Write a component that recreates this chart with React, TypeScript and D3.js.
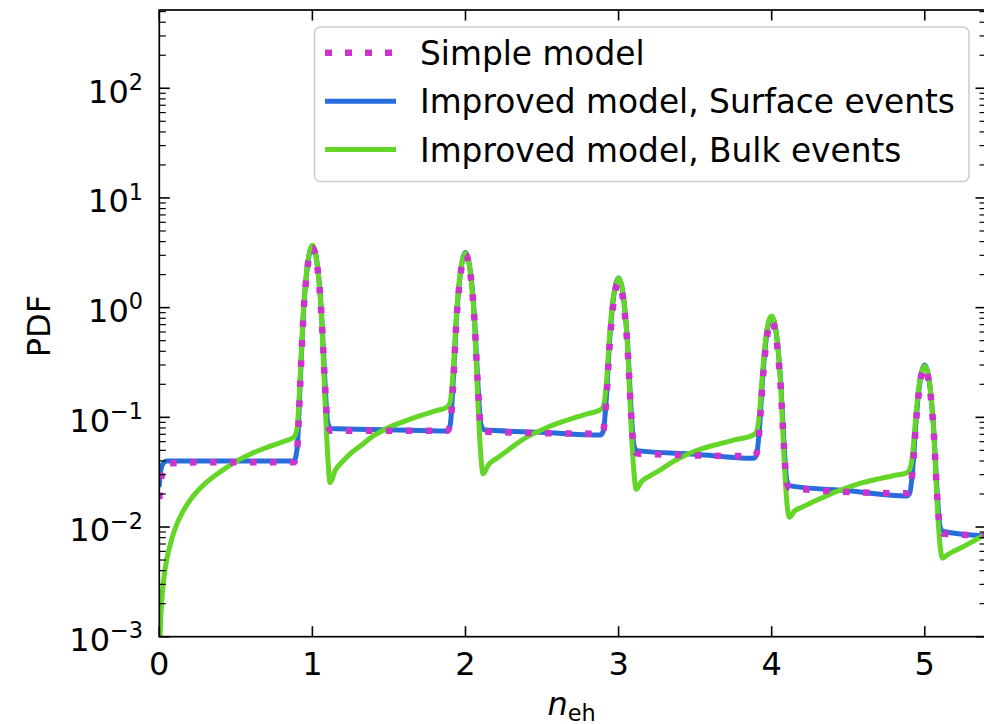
import React from "react";
import * as d3 from "d3";

// Probability density of the number of electron-hole pairs, three models.
const simpleModel: [number, number][] = [
  [0, 0.018], [0.01, 0.026], [0.02, 0.032], [0.035, 0.036], [0.06, 0.038], [0.3, 0.039], [0.88, 0.039],
  [0.9, 0.05], [0.92, 0.193], [0.94, 0.795], [0.96, 1.85], [0.98, 2.97], [1.0, 3.49], [1.02, 3.01], [1.04, 1.89], [1.06, 0.831], [1.08, 0.23], [1.1, 0.086], [1.12, 0.0755],
  [1.88, 0.0755],
  [1.9, 0.085], [1.92, 0.207], [1.94, 0.721], [1.96, 1.62], [1.98, 2.59], [2.0, 3.03], [2.02, 2.58], [2.04, 1.62], [2.06, 0.72], [2.08, 0.206], [2.1, 0.083], [2.12, 0.074],
  [2.88, 0.071],
  [2.9, 0.0761], [2.92, 0.143], [2.94, 0.426], [2.96, 0.92], [2.98, 1.45], [3.0, 1.69], [3.02, 1.43], [3.04, 0.897], [3.06, 0.402], [3.08, 0.119], [3.1, 0.052], [3.12, 0.0468],
  [3.88, 0.0443],
  [3.9, 0.0466], [3.92, 0.0765], [3.94, 0.202], [3.96, 0.422], [3.98, 0.657], [4.0, 0.76], [4.02, 0.635], [4.04, 0.4], [4.06, 0.18], [4.08, 0.0548], [4.1, 0.0249], [4.12, 0.0226],
  [4.88, 0.0203],
  [4.9, 0.0212], [4.92, 0.0324], [4.94, 0.0794], [4.96, 0.162], [4.98, 0.25], [5.0, 0.285], [5.02, 0.238], [5.04, 0.151], [5.06, 0.068], [5.08, 0.0208], [5.1, 0.0096], [5.12, 0.0087],
  [5.4, 0.0084],
];

const surfaceEvents: [number, number][] = [
  [0, 0.024], [0.01, 0.033], [0.025, 0.038], [0.05, 0.04], [0.4, 0.04], [0.88, 0.04],
  [0.9, 0.0514], [0.92, 0.201], [0.94, 0.828], [0.96, 1.93], [0.98, 3.1], [1.0, 3.64], [1.02, 3.14], [1.04, 1.97], [1.06, 0.867], [1.08, 0.24], [1.1, 0.09], [1.12, 0.079],
  [1.5, 0.077], [1.88, 0.075],
  [1.9, 0.0848], [1.92, 0.214], [1.94, 0.754], [1.96, 1.7], [1.98, 2.71], [2.0, 3.18], [2.02, 2.71], [2.04, 1.7], [2.06, 0.756], [2.08, 0.216], [2.1, 0.087], [2.12, 0.077],
  [2.5, 0.073], [2.88, 0.069],
  [2.9, 0.0747], [2.92, 0.149], [2.94, 0.463], [2.96, 1.014], [2.98, 1.6], [3.0, 1.86], [3.02, 1.58], [3.04, 0.995], [3.06, 0.444], [3.08, 0.13], [3.1, 0.0554], [3.12, 0.0497],
  [3.5, 0.046], [3.88, 0.0423],
  [3.9, 0.0448], [3.92, 0.078], [3.94, 0.217], [3.96, 0.462], [3.98, 0.723], [4.0, 0.83], [4.02, 0.704], [4.04, 0.444], [4.06, 0.199], [4.08, 0.0595], [4.1, 0.0262], [4.12, 0.0237],
  [4.5, 0.0214], [4.88, 0.0192],
  [4.9, 0.0201], [4.92, 0.0319], [4.94, 0.0816], [4.96, 0.169], [4.98, 0.262], [5.0, 0.3], [5.02, 0.252], [5.04, 0.159], [5.06, 0.0715], [5.08, 0.0218], [5.1, 0.01], [5.12, 0.0091],
  [5.4, 0.0083],
];

const bulkEvents: [number, number][] = [
  [0.004, 0.0009], [0.01, 0.0015], [0.02, 0.0025], [0.04, 0.0043], [0.07, 0.0068], [0.1, 0.0094], [0.15, 0.0135], [0.2, 0.0175], [0.3, 0.025], [0.4, 0.032], [0.5, 0.0395], [0.6, 0.0465], [0.7, 0.053], [0.8, 0.0595], [0.88, 0.066],
  [0.9, 0.08], [0.92, 0.233], [0.94, 0.87], [0.96, 1.99], [0.98, 3.15], [1.0, 3.7], [1.02, 3.15], [1.04, 1.95], [1.06, 0.82], [1.08, 0.17], [1.1, 0.045], [1.115, 0.0255],
  [1.15, 0.033], [1.2, 0.04], [1.25, 0.047], [1.3, 0.053], [1.4, 0.068], [1.5, 0.081], [1.6, 0.092], [1.7, 0.103], [1.8, 0.114], [1.88, 0.124],
  [1.9, 0.138], [1.92, 0.27], [1.94, 0.82], [1.96, 1.78], [1.98, 2.68], [2.0, 3.15], [2.02, 2.68], [2.04, 1.65], [2.06, 0.69], [2.08, 0.15], [2.1, 0.045], [2.115, 0.0305],
  [2.15, 0.037], [2.2, 0.042], [2.25, 0.047], [2.3, 0.053], [2.4, 0.066], [2.5, 0.077], [2.6, 0.088], [2.7, 0.098], [2.8, 0.108], [2.88, 0.117],
  [2.9, 0.125], [2.92, 0.2], [2.94, 0.53], [2.96, 1.1], [2.98, 1.58], [3.0, 1.86], [3.02, 1.58], [3.04, 0.98], [3.06, 0.41], [3.08, 0.093], [3.1, 0.032], [3.115, 0.0221],
  [3.15, 0.026], [3.2, 0.029], [3.27, 0.033], [3.35, 0.039], [3.45, 0.046], [3.55, 0.052], [3.65, 0.057], [3.75, 0.062], [3.88, 0.069],
  [3.9, 0.073], [3.92, 0.108], [3.94, 0.254], [3.96, 0.51], [3.98, 0.75], [4.0, 0.84], [4.02, 0.73], [4.04, 0.45], [4.06, 0.19], [4.08, 0.045], [4.1, 0.0165], [4.115, 0.0123],
  [4.15, 0.014], [4.2, 0.0152], [4.3, 0.0177], [4.4, 0.0205], [4.5, 0.023], [4.6, 0.0255], [4.7, 0.0275], [4.8, 0.0295], [4.88, 0.031],
  [4.9, 0.033], [4.92, 0.045], [4.94, 0.096], [4.96, 0.185], [4.98, 0.26], [5.0, 0.294], [5.02, 0.255], [5.04, 0.16], [5.06, 0.068], [5.08, 0.017], [5.1, 0.0068], [5.115, 0.0052],
  [5.15, 0.0056], [5.2, 0.0061], [5.25, 0.0066], [5.3, 0.0072], [5.35, 0.0079], [5.4, 0.0086],
];

const xTickValues = [0, 1, 2, 3, 4, 5];
const yExponents = [-3, -2, -1, 0, 1, 2];
const legendLabels = [
  "Simple model",
  "Improved model, Surface events",
  "Improved model, Bulk events",
];

const W = 984;
const H = 724;
const FONT = "DejaVu Sans, sans-serif";
const MAGENTA = "#cc33cc";
const BLUE = "#276ddc";
const GREEN = "#64d628";

export default function App() {
  const left = 159.3;
  const right = 986;
  const top = 10;
  const bottom = 636.7;

  const x = d3.scaleLinear().domain([0, 5.4]).range([left, right]);
  const y = d3.scaleLog().domain([1e-3, 517]).range([bottom, top]);

  const line = d3
    .line<[number, number]>()
    .x((d) => x(d[0]))
    .y((d) => y(d[1]))
    .curve(d3.curveMonotoneX);

  const minorY: number[] = [];
  yExponents.forEach((e) => {
    for (let m = 2; m <= 9; m++) {
      const v = m * Math.pow(10, e);
      if (v <= y.domain()[1]) minorY.push(v);
    }
  });

  const majorLen = 10.5;
  const minorLen = 6.5;
  const fs = 32;
  const legendFs = 32.8;

  const series = [
    { data: simpleModel, color: MAGENTA, dotted: true },
    { data: surfaceEvents, color: BLUE, dotted: false },
    { data: bulkEvents, color: GREEN, dotted: false },
  ];
  const drawOrder = [1, 2, 0];

  const legendRows = [52.7, 101.2, 149.5];

  return (
    <svg
      width={W}
      height={H}
      style={{ position: "absolute", left: 0, top: 0, background: "#fff" }}
      fontFamily={FONT}
    >
      <defs>
        <clipPath id="plotArea">
          <rect x={left} y={top} width={right - left} height={bottom - top} />
        </clipPath>
      </defs>
      <rect x={0} y={0} width={W} height={H} fill="#fff" />

      <g clipPath="url(#plotArea)" fill="none" strokeLinejoin="round">
        {drawOrder.map((i) => {
          const s = series[i];
          return (
            <path
              key={i}
              d={line(s.data) || ""}
              stroke={s.color}
              strokeWidth={s.dotted ? 6.5 : 5}
              strokeDasharray={s.dotted ? "6.5 13.5" : undefined}
              strokeLinecap={s.dotted ? "butt" : "round"}
            />
          );
        })}
      </g>

      {/* ticks, pointing inward on all four sides */}
      <g stroke="#000">
        {xTickValues.map((v) => (
          <g key={"xt" + v} strokeWidth={1.6}>
            <line x1={x(v)} x2={x(v)} y1={bottom} y2={bottom - majorLen} />
            <line x1={x(v)} x2={x(v)} y1={top} y2={top + majorLen} />
          </g>
        ))}
        {yExponents.map((e) => {
          const py = y(Math.pow(10, e));
          return (
            <g key={"yt" + e} strokeWidth={1.6}>
              <line x1={left} x2={left + majorLen} y1={py} y2={py} />
              <line x1={right} x2={right - majorLen} y1={py} y2={py} />
            </g>
          );
        })}
        {minorY.map((v, i) => {
          const py = y(v);
          return (
            <g key={"ym" + i} strokeWidth={1.2}>
              <line x1={left} x2={left + minorLen} y1={py} y2={py} />
              <line x1={right} x2={right - minorLen} y1={py} y2={py} />
            </g>
          );
        })}
      </g>

      <rect
        x={left}
        y={top}
        width={right - left}
        height={bottom - top}
        fill="none"
        stroke="#000"
        strokeWidth={1.7}
      />

      {/* tick labels */}
      <g fontSize={fs} fill="#000">
        {xTickValues.map((v) => (
          <text key={"xl" + v} x={x(v)} y={674.5} textAnchor="middle">
            {String(v)}
          </text>
        ))}
        {yExponents.map((e) => {
          const py = y(Math.pow(10, e));
          const expText = e < 0 ? "\u2212" + String(-e) : String(e);
          return (
            <text key={"yl" + e} x={143} y={py + 14.3} textAnchor="end">
              10
              <tspan dy={-12.7} fontSize={fs * 0.7}>
                {expText}
              </tspan>
            </text>
          );
        })}
      </g>

      {/* axis titles */}
      <text
        transform="translate(50,326) rotate(-90)"
        textAnchor="middle"
        fontSize={fs}
        fill="#000"
      >
        PDF
      </text>
      <text x={571.5} y={715} textAnchor="middle" fontSize={fs} fill="#000">
        <tspan fontStyle="italic">n</tspan>
        <tspan dy={5.5} fontSize={fs * 0.7}>
          eh
        </tspan>
      </text>

      {/* legend */}
      <g>
        <rect
          x={314.5}
          y={27}
          width={654.5}
          height={154.5}
          rx={6}
          ry={6}
          fill="#fff"
          fillOpacity={0.8}
          stroke="#cccccc"
          strokeWidth={1.5}
        />
        {legendLabels.map((label, i) => {
          const s = series[i];
          const ry = legendRows[i];
          return (
            <g key={"lg" + i}>
              <line
                x1={325}
                x2={396}
                y1={ry}
                y2={ry}
                stroke={s.color}
                strokeWidth={s.dotted ? 6.5 : 5}
                strokeDasharray={s.dotted ? "7 13" : undefined}
              />
              <text x={420} y={ry + 12} fontSize={legendFs} fill="#000">
                {label}
              </text>
            </g>
          );
        })}
      </g>
    </svg>
  );
}
